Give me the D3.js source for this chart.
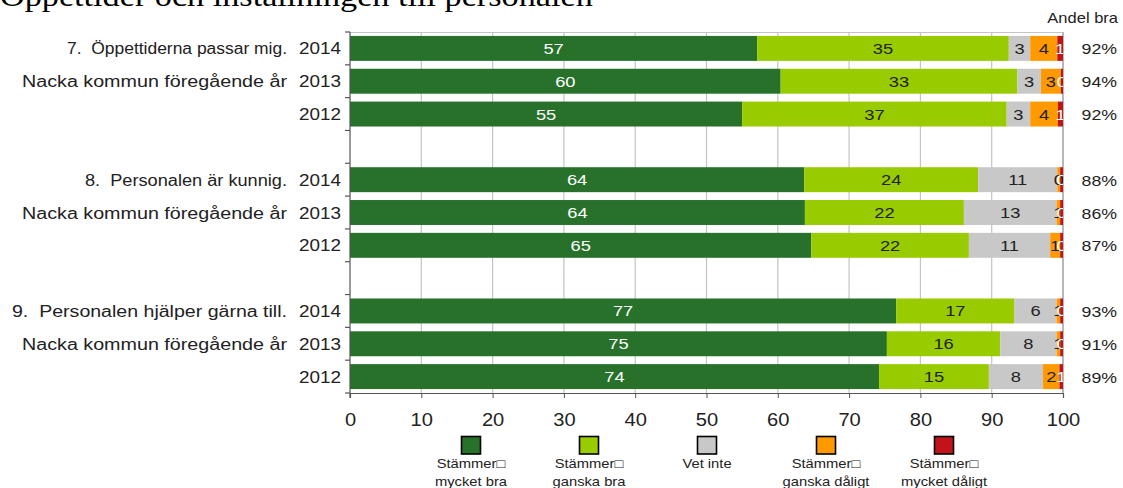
<!DOCTYPE html>
<html lang="sv">
  <head>
    <meta charset="utf-8" />
    <title>Öppettider och inställningen till personalen</title>
    <script src="https://cdnjs.cloudflare.com/ajax/libs/d3/7.8.5/d3.min.js"></script>
    <style>
      body { margin: 0; background: #fff; overflow: hidden; }
      text { font-family: Arial, "Liberation Sans", sans-serif; fill: #222; white-space: pre; }
    </style>
  </head>
  <body>
    <div id="chart"></div>
    <script>
    // data
    var questions = ["7.  Öppettiderna passar mig.", "8.  Personalen är kunnig.", "9.  Personalen hjälper gärna till."];
    var compareLabel = "Nacka kommun föregående år";
    var years = ["2014", "2013", "2012"];
    var seriesNames = [["Stämmer\u25A1", "mycket bra"], ["Stämmer\u25A1", "ganska bra"], ["Vet inte", ""],
                       ["Stämmer\u25A1", "ganska dåligt"], ["Stämmer\u25A1", "mycket dåligt"]];
    var mycketBra    = [57.1, 60.4, 55.0, 63.7, 63.8, 64.7, 76.6, 75.3, 74.2];
    var ganskaBra    = [35.3, 33.2, 37.1, 24.4, 22.3, 22.1, 16.6, 15.9, 15.4];
    var vetInte      = [ 3.0,  3.3,  3.3, 11.1, 13.0, 11.4,  5.9,  7.9,  7.6];
    var ganskaDaligt = [ 3.8,  2.8,  3.9,  0.4,  0.5,  1.4,  0.5,  0.5,  2.3];
    var mycketDaligt = [ 0.8,  0.3,  0.7,  0.4,  0.4,  0.4,  0.4,  0.4,  0.5];
    var andelBra = ["92%", "94%", "92%", "88%", "86%", "87%", "93%", "91%", "89%"];
    var xTicks = [0, 10, 20, 30, 40, 50, 60, 70, 80, 90, 100];

    var colors = ["#27712b", "#99cc00", "#c8c8c8", "#ff9900", "#c0141a"];
    var labelColors = ["#fff", "#222", "#222", "#222", "#fff"];
    var sx = 1.18; // the picture is stretched sideways
    // widths of the question texts as they stand in the picture
    var questionWidths = [220, 202, 275];
    var compareWidth = 265;

    var W = 1123, H = 488;
    var svg = d3.select("#chart").append("svg").attr("width", W).attr("height", H);

    // one slot per bar plus a blank slot between the questions
    var slots = [];
    questions.forEach(function(q, qi) {
      if (qi > 0) slots.push("gap" + qi);
      years.forEach(function(y) { slots.push(qi + "-" + y); });
    });
    var rows = slots.filter(function(s) { return s.indexOf("gap") < 0; });

    var x = d3.scaleLinear().domain([0, 100]).range([350, 1063]);
    var y = d3.scaleBand().domain(slots).range([32, 393]).paddingInner(0.24).paddingOuter(0.12);

    function txt(g, px, py, s, size, anchor, fill, scale) {
      return g.append("text")
        .attr("transform", "translate(" + px + "," + py + ") scale(" + (scale || sx) + ",1)")
        .attr("text-anchor", anchor || "start")
        .style("font-size", size + "px")
        .style("fill", fill || "#222")
        .text(s);
    }
    function fitTxt(g, right, py, s, size, width) {
      return g.append("text")
        .attr("x", right - width).attr("y", py)
        .attr("textLength", width).attr("lengthAdjust", "spacingAndGlyphs")
        .style("font-size", size + "px")
        .text(s);
    }

    // title, cut by the top edge
    txt(svg, 0, 6, "Öppettider och inställningen till personalen", 29, "start", "#000")
      .style("font-family", "'Liberation Serif', 'Times New Roman', serif");

    // grid
    svg.append("g").selectAll("line").data(xTicks.slice(1)).enter().append("line")
      .attr("x1", function(d) { return x(d); }).attr("x2", function(d) { return x(d); })
      .attr("y1", 32).attr("y2", 393)
      .attr("stroke", function(d) { return d === 100 ? "#888" : "#c4c4c4"; })
      .attr("stroke-width", 1.2);
    svg.append("line").attr("x1", 350).attr("x2", 1063).attr("y1", 32.5).attr("y2", 32.5)
      .attr("stroke", "#c4c4c4").attr("stroke-width", 1.2);

    // stacked bars
    var stackData = rows.map(function(r, i) {
      return { row: r, v: [mycketBra[i], ganskaBra[i], vetInte[i], ganskaDaligt[i], mycketDaligt[i]] };
    });
    var keys = [0, 1, 2, 3, 4];
    var stack = d3.stack().keys(keys).value(function(d, k) { return d.v[k]; });
    var layers = stack(stackData);

    svg.append("clipPath").attr("id", "plotclip").append("rect")
      .attr("x", 350).attr("y", 0).attr("width", 713).attr("height", 400);

    var layer = svg.append("g").selectAll("g").data(layers).enter().append("g")
      .attr("fill", function(d) { return colors[d.key]; });
    layer.selectAll("rect").data(function(d) { return d; }).enter().append("rect")
      .attr("x", function(d) { return x(d[0]); })
      .attr("width", function(d) { return x(d[1]) - x(d[0]); })
      .attr("y", function(d) { return y(d.data.row); })
      .attr("height", y.bandwidth());

    var labels = svg.append("g").attr("clip-path", "url(#plotclip)");
    layers.forEach(function(l) {
      l.forEach(function(d) {
        var cx = (x(d[0]) + x(d[1])) / 2;
        txt(labels, cx, y(d.data.row) + y.bandwidth() / 2 + 5.5, String(Math.round(d[1] - d[0])), 15.5, "middle", labelColors[l.key]);
      });
    });

    // left axis with ticks at slot edges
    var ax = svg.append("g").attr("stroke", "#555").attr("stroke-width", 1.2);
    ax.append("line").attr("x1", 350).attr("x2", 350).attr("y1", 32).attr("y2", 398);
    d3.range(slots.length + 1).forEach(function(i) {
      var yy = 32 + i * y.step();
      ax.append("line").attr("x1", 345).attr("x2", 350).attr("y1", yy).attr("y2", yy);
    });

    // bottom axis
    var bx = svg.append("g").attr("transform", "translate(0,393)")
      .call(d3.axisBottom(x).tickValues(xTicks).tickSize(5).tickFormat(d3.format("d")));
    bx.select(".domain").attr("stroke", "#555").attr("stroke-width", 1.2);
    bx.selectAll(".tick line").attr("stroke", "#555");
    bx.selectAll(".tick text")
      .style("font-size", "17.5px").style("font-family", "Arial, 'Liberation Sans', sans-serif")
      .attr("fill", "#222").attr("transform", "scale(1.15,1)")
      .attr("x", 0).attr("dy", null).attr("y", 33);

    // left labels
    rows.forEach(function(r, i) {
      var qi = Math.floor(i / 3), yi = i % 3;
      var cy = y(r) + y.bandwidth() / 2 + 6;
      txt(svg, 341, cy, years[yi], 16, "end");
      if (yi === 0) fitTxt(svg, 287, cy, questions[qi], 16, questionWidths[qi]);
      if (yi === 1) fitTxt(svg, 287, cy, compareLabel, 16, compareWidth);
      txt(svg, 1117, cy, andelBra[i], 15, "end");
    });
    txt(svg, 1118, 23, "Andel bra", 14, "end");

    // legend
    var legX = [471, 589, 707, 826, 944];
    seriesNames.forEach(function(n, i) {
      svg.append("rect").attr("x", legX[i] - 9.5).attr("y", 436.5).attr("width", 19).attr("height", 17.5)
        .attr("fill", colors[i]).attr("stroke", "#000").attr("stroke-width", 1.6);
      txt(svg, legX[i], 468, n[0], 12.5, "middle");
      if (n[1]) txt(svg, legX[i], 486, n[1], 12.5, "middle");
    });
    </script>
  </body>
</html>
